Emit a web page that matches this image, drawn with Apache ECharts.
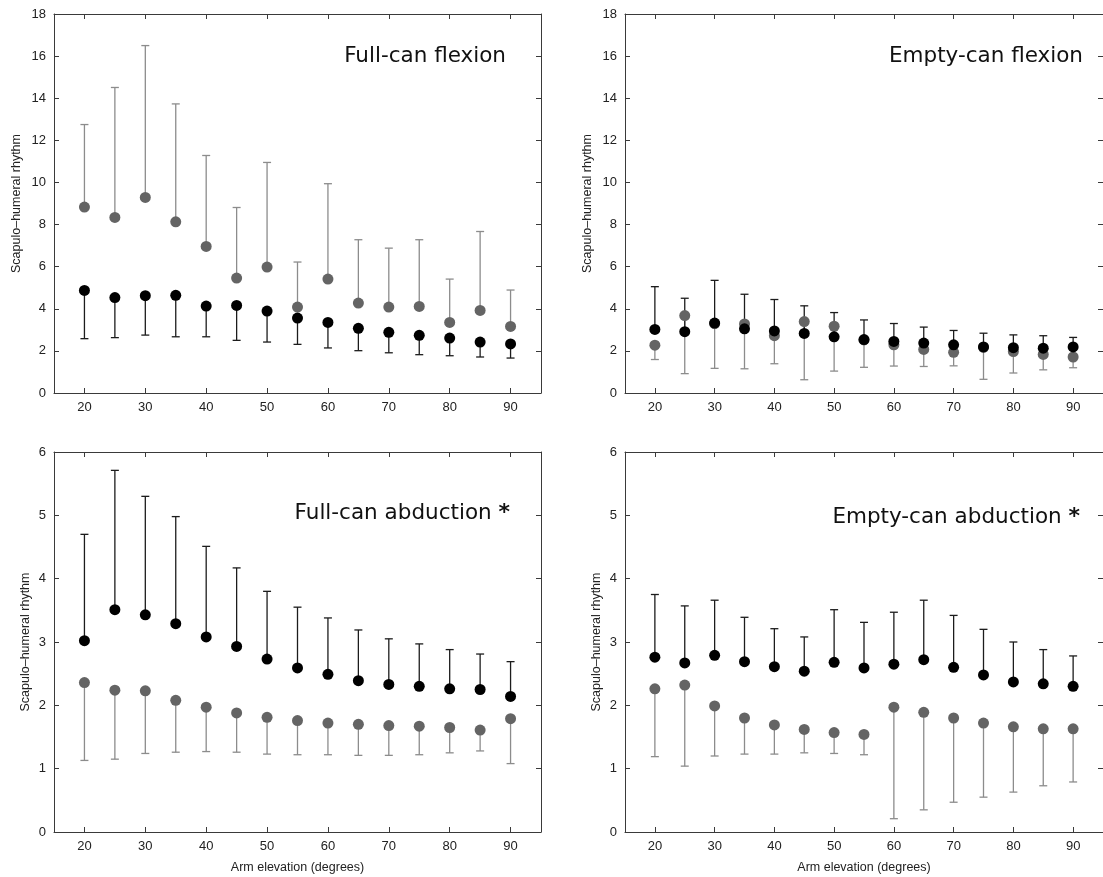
<!DOCTYPE html>
<html>
<head>
<meta charset="utf-8">
<script src="https://cdn.jsdelivr.net/npm/echarts@6/dist/echarts.min.js"></script>
<style>
  html, body { margin: 0; padding: 0; background: #fff; }
  #chart { width: 1103px; height: 877px; }
</style>
</head>
<body>
<div id="chart"></div>
<script>
// Arm elevation angles (degrees)
const angles = [20, 25, 30, 35, 40, 45, 50, 55, 60, 65, 70, 75, 80, 85, 90];
const xTicks = [20, 30, 40, 50, 60, 70, 80, 90];

// Full-can flexion
const fcfGrayMean   = [8.83, 8.34, 9.29, 8.13, 6.96, 5.46, 5.98, 4.08, 5.41, 4.27, 4.08, 4.11, 3.35, 3.92, 3.16];
const fcfGrayUpper  = [12.75, 14.51, 16.5, 13.73, 11.28, 8.81, 10.95, 6.22, 9.94, 7.28, 6.88, 7.28, 5.41, 7.67, 4.89];
const fcfBlackMean  = [4.87, 4.53, 4.62, 4.64, 4.13, 4.16, 3.89, 3.56, 3.35, 3.07, 2.88, 2.74, 2.61, 2.42, 2.33];
const fcfBlackLower = [2.58, 2.63, 2.75, 2.67, 2.67, 2.50, 2.42, 2.31, 2.14, 2.01, 1.91, 1.82, 1.77, 1.71, 1.66];

// Empty-can flexion
const ecfBlackMean  = [3.02, 2.91, 3.32, 3.05, 2.95, 2.83, 2.67, 2.54, 2.45, 2.37, 2.29, 2.19, 2.15, 2.13, 2.19];
const ecfBlackUpper = [5.05, 4.50, 5.35, 4.69, 4.44, 4.14, 3.82, 3.47, 3.30, 3.13, 2.97, 2.84, 2.76, 2.72, 2.64];
const ecfGrayMean   = [2.27, 3.68, 3.30, 3.28, 2.72, 3.39, 3.17, 2.52, 2.29, 2.07, 1.93, 2.17, 1.97, 1.83, 1.71];
const ecfGrayLower  = [1.59, 0.92, 1.17, 1.15, 1.39, 0.63, 1.04, 1.22, 1.28, 1.26, 1.29, 0.65, 0.95, 1.10, 1.20];

// Full-can abduction
const fcaBlackMean  = [3.02, 3.51, 3.43, 3.29, 3.08, 2.93, 2.73, 2.59, 2.49, 2.39, 2.33, 2.30, 2.26, 2.25, 2.14];
const fcaBlackUpper = [4.70, 5.71, 5.30, 4.98, 4.51, 4.17, 3.80, 3.55, 3.38, 3.19, 3.05, 2.97, 2.88, 2.81, 2.69];
const fcaGrayMean   = [2.36, 2.24, 2.23, 2.08, 1.97, 1.88, 1.81, 1.76, 1.72, 1.70, 1.68, 1.67, 1.65, 1.61, 1.79];
const fcaGrayLower  = [1.13, 1.15, 1.24, 1.26, 1.27, 1.26, 1.23, 1.22, 1.22, 1.21, 1.21, 1.22, 1.25, 1.28, 1.08];

// Empty-can abduction
const ecaBlackMean  = [2.76, 2.67, 2.79, 2.69, 2.61, 2.54, 2.68, 2.59, 2.65, 2.72, 2.60, 2.48, 2.37, 2.34, 2.30];
const ecaBlackUpper = [3.75, 3.57, 3.66, 3.39, 3.21, 3.08, 3.51, 3.31, 3.47, 3.66, 3.42, 3.20, 3.00, 2.88, 2.78];
const ecaGrayMean   = [2.26, 2.32, 1.99, 1.80, 1.69, 1.62, 1.57, 1.54, 1.97, 1.89, 1.80, 1.72, 1.66, 1.63, 1.63];
const ecaGrayLower  = [1.19, 1.04, 1.20, 1.23, 1.23, 1.25, 1.24, 1.22, 0.21, 0.35, 0.47, 0.55, 0.63, 0.73, 0.79];

const panelTitles = ['Full-can flexion', 'Empty-can flexion', 'Full-can abduction', 'Empty-can abduction'];
const panelMarks = ['', '', '*', '*'];
const yTitle = 'Scapulo\u2013humeral rhythm';
const xTitle = 'Arm elevation (degrees)';

const AXIS_COLOR = '#3a3a3a';
const LABEL_COLOR = '#222';
const BLACK_DOT = '#000000';
const GRAY_DOT = '#646464';
const BLACK_BAR = '#1c1c1c';
const GRAY_BAR = '#8c8c8c';

const panels = [
  { grid: { left: 54, top: 14, width: 487, height: 379 }, yMax: 18, yStep: 2, nameGap: 31, xName: false,
    gray: [fcfGrayMean, fcfGrayUpper], black: [fcfBlackMean, fcfBlackLower] },
  { grid: { left: 625, top: 14, width: 485, height: 379 }, yMax: 18, yStep: 2, nameGap: 31, xName: false,
    gray: [ecfGrayMean, ecfGrayLower], black: [ecfBlackMean, ecfBlackUpper] },
  { grid: { left: 54, top: 452, width: 487, height: 380 }, yMax: 6, yStep: 1, nameGap: 22, xName: true,
    gray: [fcaGrayMean, fcaGrayLower], black: [fcaBlackMean, fcaBlackUpper] },
  { grid: { left: 625, top: 452, width: 485, height: 380 }, yMax: 6, yStep: 1, nameGap: 22, xName: true,
    gray: [ecaGrayMean, ecaGrayLower], black: [ecaBlackMean, ecaBlackUpper] }
];

const grids = [], xAxes = [], yAxes = [], series = [];

function errorBar(color) {
  return function (params, api) {
    const x = api.value(0);
    const p0 = api.coord([x, api.value(1)]);
    const p1 = api.coord([x, api.value(2)]);
    const half = 4;
    const style = { stroke: color, lineWidth: 1.3, fill: null };
    return {
      type: 'group',
      children: [
        { type: 'line', shape: { x1: p0[0], y1: p0[1], x2: p1[0], y2: p1[1] }, style },
        { type: 'line', shape: { x1: p1[0] - half, y1: p1[1], x2: p1[0] + half, y2: p1[1] }, style }
      ]
    };
  };
}

panels.forEach((p, i) => {
  grids.push(Object.assign({ containLabel: false }, p.grid));
  const axisLine = { show: true, onZero: false, lineStyle: { color: AXIS_COLOR, width: 1 } };
  const xTick = { show: true, inside: true, length: 5, lineStyle: { color: AXIS_COLOR }, customValues: xTicks };
  const yTick = { show: true, inside: true, length: 5, lineStyle: { color: AXIS_COLOR } };
  // bottom x axis
  xAxes.push({
    type: 'value', gridIndex: i, position: 'bottom', min: 15, max: 95,
    axisLine, splitLine: { show: false }, axisTick: xTick,
    axisLabel: { customValues: xTicks, color: LABEL_COLOR, fontFamily: 'Liberation Sans', fontSize: 13, margin: 8 },
    name: p.xName ? xTitle : '', nameLocation: 'middle', nameGap: 29,
    nameTextStyle: { color: LABEL_COLOR, fontFamily: 'Liberation Sans', fontSize: 12.5 }
  });
  // top x axis: closes the frame, mirrored ticks
  xAxes.push({
    type: 'value', gridIndex: i, position: 'top', min: 15, max: 95,
    axisLine, splitLine: { show: false }, axisTick: xTick, axisLabel: { show: false }
  });
  // left y axis
  yAxes.push({
    type: 'value', gridIndex: i, position: 'left', min: 0, max: p.yMax, interval: p.yStep,
    axisLine, splitLine: { show: false }, axisTick: yTick,
    axisLabel: { color: LABEL_COLOR, fontFamily: 'Liberation Sans', fontSize: 13, margin: 8 },
    name: yTitle, nameLocation: 'middle', nameRotate: 90, nameGap: p.nameGap,
    nameTextStyle: { color: LABEL_COLOR, fontFamily: 'Liberation Sans', fontSize: 12.5 }
  });
  // right y axis: closes the frame, mirrored ticks
  yAxes.push({
    type: 'value', gridIndex: i, position: 'right', min: 0, max: p.yMax, interval: p.yStep,
    axisLine, splitLine: { show: false }, axisTick: yTick, axisLabel: { show: false }
  });

  const xi = 2 * i, yi = 2 * i;
  const grayBars = angles.map((a, k) => [a, p.gray[0][k], p.gray[1][k]]);
  const blackBars = angles.map((a, k) => [a, p.black[0][k], p.black[1][k]]);
  series.push({ type: 'custom', xAxisIndex: xi, yAxisIndex: yi, renderItem: errorBar(GRAY_BAR),
    data: grayBars, z: 2, silent: true, clip: false, encode: { x: 0, y: [1, 2] } });
  series.push({ type: 'custom', xAxisIndex: xi, yAxisIndex: yi, renderItem: errorBar(BLACK_BAR),
    data: blackBars, z: 3, silent: true, clip: false, encode: { x: 0, y: [1, 2] } });
  series.push({ type: 'scatter', xAxisIndex: xi, yAxisIndex: yi, symbol: 'circle', symbolSize: 11,
    itemStyle: { color: GRAY_DOT, opacity: 1 }, data: angles.map((a, k) => [a, p.gray[0][k]]), z: 4, silent: true });
  series.push({ type: 'scatter', xAxisIndex: xi, yAxisIndex: yi, symbol: 'circle', symbolSize: 11,
    itemStyle: { color: BLACK_DOT, opacity: 1 }, data: angles.map((a, k) => [a, p.black[0][k]]), z: 5, silent: true });
});

// Panel titles, right-aligned inside each plot; the asterisk is set in bold
const titlePos = [[506, 56], [1083, 56], [510, 513], [1080, 517]];
const graphics = panelTitles.map((t, i) => ({
  type: 'text', x: titlePos[i][0], y: titlePos[i][1], z: 10,
  style: {
    text: panelMarks[i] ? '{t|' + t + ' }{m|' + panelMarks[i] + '}' : '{t|' + t + '}',
    align: 'right', verticalAlign: 'middle',
    rich: {
      t: { fontFamily: 'DejaVu Sans', fontSize: 21.5, fill: '#111', color: '#111' },
      m: { fontFamily: 'DejaVu Sans', fontWeight: 'bold', fontSize: 22, fill: '#111', color: '#111' }
    }
  }
}));

const chart = echarts.init(document.getElementById('chart'), null, { renderer: 'canvas' });
chart.setOption({
  animation: false,
  backgroundColor: '#ffffff',
  grid: grids,
  xAxis: xAxes,
  yAxis: yAxes,
  series: series,
  graphic: graphics
});
</script>
</body>
</html>
